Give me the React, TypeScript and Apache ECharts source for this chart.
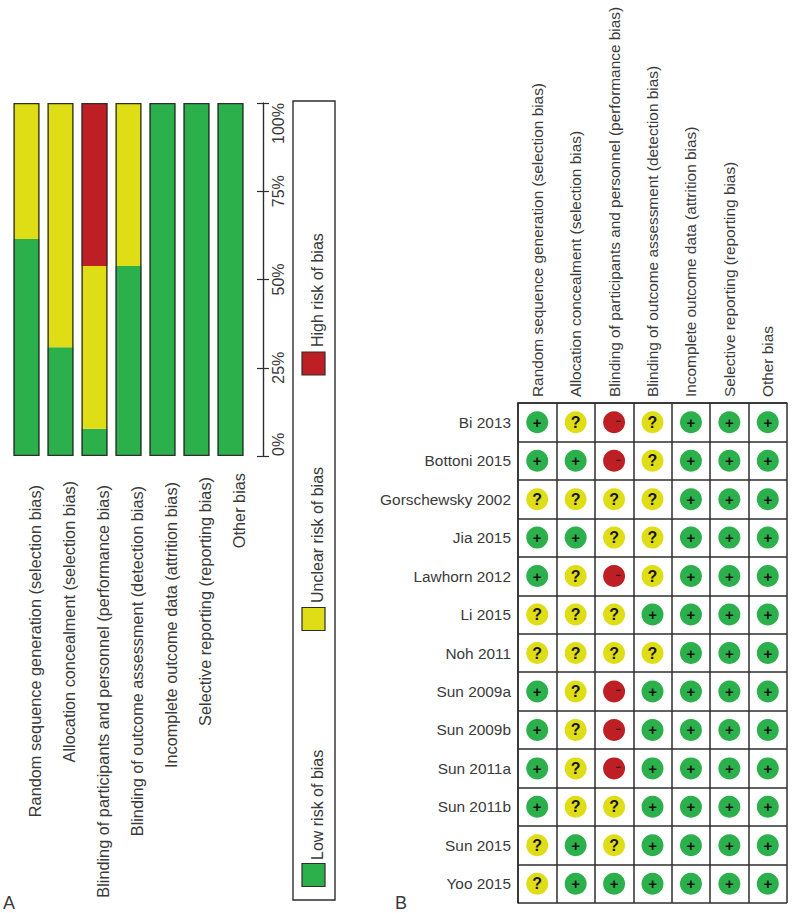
import React, { useEffect, useRef } from "react";
import * as echarts from "echarts";

const domains = [
  "Random sequence generation (selection bias)",
  "Allocation concealment (selection bias)",
  "Blinding of participants and personnel (performance bias)",
  "Blinding of outcome assessment (detection bias)",
  "Incomplete outcome data (attrition bias)",
  "Selective reporting (reporting bias)",
  "Other bias",
];
const lowRisk = [61.5, 30.8, 7.7, 53.8, 100, 100, 100];
const unclearRisk = [38.5, 69.2, 46.15, 46.2, 0, 0, 0];
const highRisk = [0, 0, 46.15, 0, 0, 0, 0];
const outlineValues = [100, 100, 100, 100, 100, 100, 100];
const legendLabels = ["Low risk of bias", "Unclear risk of bias", "High risk of bias"];

const studies = [
  "Bi 2013", "Bottoni 2015", "Gorschewsky 2002", "Jia 2015", "Lawhorn 2012", "Li 2015", "Noh 2011",
  "Sun 2009a", "Sun 2009b", "Sun 2011a", "Sun 2011b", "Sun 2015", "Yoo 2015",
];
const judgements = [
  "+?-?+++",
  "++-?+++",
  "????+++",
  "++??+++",
  "+?-?+++",
  "???++++",
  "????+++",
  "+?-++++",
  "+?-++++",
  "+?-++++",
  "+??++++",
  "?+?++++",
  "?++++++",
];

const GREEN = "#2bb04c";
const YELLOW = "#dfdd16";
const RED = "#bd1f24";
const INK = "#2e2e2e";
const TEXT = "#3a3a3a";
const FONT = '"Liberation Sans", Arial, sans-serif';
const LABEL_GAPS = [12, 8, 12, 13, 9, 4, 0];

function cellsOf(mark: string) {
  const out: number[][] = [];
  judgements.forEach((row, r) => {
    row.split("").forEach((c, d) => {
      if (c === mark) out.push([d, r]);
    });
  });
  return out;
}

function scatter(name: string, mark: string, color: string, label: any) {
  return {
    name,
    type: "scatter",
    xAxisIndex: 1,
    yAxisIndex: 2,
    data: cellsOf(mark),
    symbol: "circle",
    symbolSize: 22,
    itemStyle: { color, opacity: 1 },
    label: { show: true, position: "inside", color: "#151515", fontFamily: FONT, fontWeight: "bold", ...label },
    silent: true,
    z: 3,
  };
}

function bar(name: string, data: number[], color: string) {
  return {
    name,
    type: "bar",
    stack: "risk",
    xAxisIndex: 0,
    yAxisIndex: 0,
    data,
    barWidth: 26,
    barGap: "-100%",
    itemStyle: { color, borderWidth: 0 },
    silent: true,
  };
}

function rotated(text: string, x: number, y: number) {
  return {
    type: "text",
    x,
    y,
    rotation: Math.PI / 2,
    style: { text, fontFamily: FONT, fontSize: 16, fill: TEXT, align: "left", verticalAlign: "middle" },
  };
}

function swatch(y: number, fill: string) {
  return { type: "rect", shape: { x: 302, y, width: 23, height: 23 }, style: { fill, stroke: INK, lineWidth: 1.2 } };
}

const valueAxisBase = {
  type: "value",
  gridIndex: 0,
  position: "right",
  offset: 15.5,
  min: 0,
  max: 100,
  interval: 25,
  splitLine: { show: false },
  axisLine: { show: true, lineStyle: { color: INK, width: 1.2 } },
};

export default function App() {
  const ref = useRef<HTMLDivElement>(null);
  useEffect(() => {
    const chart = echarts.init(ref.current!, null, { renderer: "svg" });
    chart.setOption({
      animation: false,
      backgroundColor: "#ffffff",
      grid: [
        { left: 9.5, top: 103, width: 238, height: 353 },
        { left: 518, top: 403, width: 269, height: 500 },
      ],
      xAxis: [
        {
          type: "category",
          gridIndex: 0,
          data: domains.map((value, i) => ({
            value,
            textStyle: { padding: [0, LABEL_GAPS[i], 0, 0], verticalAlign: "top", align: "right" },
          })),
          axisLine: { show: false },
          axisTick: { show: false },
          axisLabel: {
            interval: 0,
            rotate: 90,
            margin: 17,
            align: "right",
            verticalAlign: "top",
            color: TEXT,
            fontFamily: FONT,
            fontSize: 16.3,
          },
        },
        {
          type: "category",
          gridIndex: 1,
          position: "top",
          data: domains,
          axisLine: { show: true, lineStyle: { color: INK, width: 1.5 } },
          axisTick: { show: false },
          splitLine: { show: true, interval: 0, lineStyle: { color: INK, width: 1.5 } },
          axisLabel: {
            interval: 0,
            rotate: -90,
            margin: 6,
            color: TEXT,
            fontFamily: FONT,
            fontSize: 15.4,
          },
        },
      ],
      yAxis: [
        {
          ...valueAxisBase,
          axisTick: { show: true, length: 6, lineStyle: { color: INK, width: 1.2 } },
          axisLabel: {
            rotate: 90,
            margin: 15,
            align: "center",
            verticalAlign: "middle",
            alignMinLabel: "left",
            alignMaxLabel: "right",
            color: TEXT,
            fontFamily: FONT,
            fontSize: 16,
            formatter: "{value}%",
          },
        },
        {
          ...valueAxisBase,
          axisTick: { show: true, inside: true, length: 6, lineStyle: { color: INK, width: 1.2 } },
          axisLabel: { show: false },
        },
        {
          type: "category",
          gridIndex: 1,
          inverse: true,
          data: studies,
          axisLine: { show: true, lineStyle: { color: INK, width: 1.5 } },
          axisTick: { show: false },
          splitLine: { show: true, interval: 0, lineStyle: { color: INK, width: 1.5 } },
          axisLabel: { interval: 0, margin: 7, color: TEXT, fontFamily: FONT, fontSize: 15.4 },
        },
      ],
      graphic: [
        {
          type: "group",
          children: [
            {
              type: "rect",
              shape: { x: 293, y: 101, width: 42, height: 799 },
              style: { fill: "#ffffff", stroke: INK, lineWidth: 1.4 },
            },
            swatch(352, RED),
            rotated(legendLabels[2], 317, 347),
            swatch(607.5, YELLOW),
            rotated(legendLabels[1], 317, 603),
            swatch(863.5, GREEN),
            rotated(legendLabels[0], 317, 860),
            {
              type: "text",
              x: 3,
              y: 903,
              style: { text: "A", fontFamily: FONT, fontSize: 18, fill: TEXT, align: "left", verticalAlign: "middle" },
            },
            {
              type: "text",
              x: 395,
              y: 903,
              style: { text: "B", fontFamily: FONT, fontSize: 18, fill: TEXT, align: "left", verticalAlign: "middle" },
            },
          ],
        },
      ],
      series: [
        bar(legendLabels[0], lowRisk, GREEN),
        bar(legendLabels[1], unclearRisk, YELLOW),
        bar("High risk of bias", highRisk, RED),
        {
          name: "outline",
          type: "bar",
          xAxisIndex: 0,
          yAxisIndex: 0,
          data: outlineValues,
          barWidth: 26,
          barGap: "-100%",
          itemStyle: { color: "rgba(0,0,0,0)", borderColor: INK, borderWidth: 1.3 },
          silent: true,
          z: 4,
        },
        scatter("Low", "+", GREEN, { formatter: "+", fontSize: 15 }),
        scatter("Unclear", "?", YELLOW, { formatter: "?", fontSize: 16 }),
        scatter("High", "-", RED, { formatter: "\u2212", fontSize: 9, offset: [4, -1] }),
      ],
    });
    return () => chart.dispose();
  }, []);
  return <div ref={ref} style={{ position: "fixed", left: 0, top: 0, width: 800, height: 913 }} />;
}
